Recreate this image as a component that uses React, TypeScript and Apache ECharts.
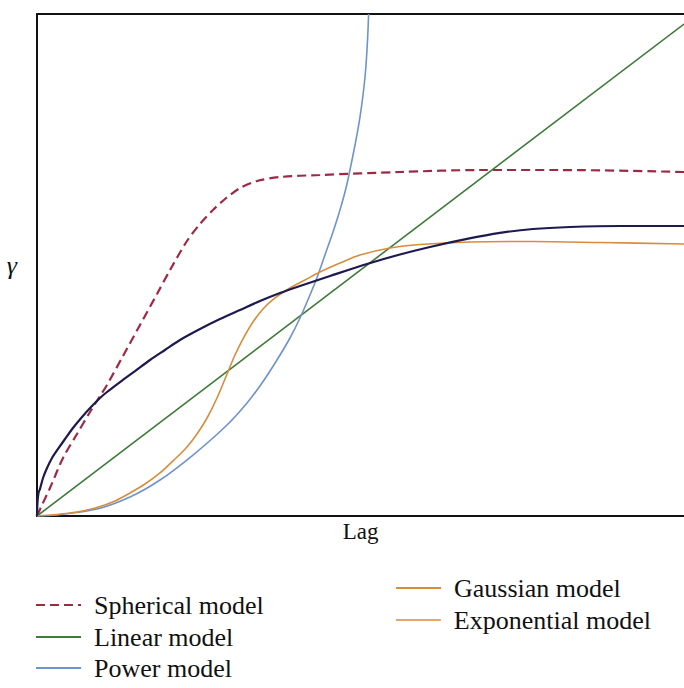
import React, { useEffect, useRef } from "react";
import * as echarts from "echarts";

const sphericalModel: number[][] = [
  [0, 0], [0.77, 2.19], [2.01, 5.58], [4.02, 11.55], [6.18, 16.33], [8.19, 20.72],
  [9.74, 23.9], [10.82, 26.1], [13.29, 31.87], [15.92, 38.05], [18.55, 44.22],
  [20.56, 49.0], [23.18, 54.78], [25.19, 58.17], [27.2, 60.96], [29.06, 63.15],
  [31.38, 65.34], [34.0, 66.73], [37.56, 67.53], [43.74, 67.93], [56.1, 68.53],
  [68.47, 68.92], [80.83, 68.92], [100, 68.53],
];
const linearModel: number[][] = [[0, 0], [100, 98]];
const powerModel: number[][] = [
  [0, 0], [3.09, 0.2], [9.27, 1.39], [14.37, 3.78], [19.01, 7.17], [24.11, 12.15],
  [29.37, 18.13], [32.46, 22.51], [34.78, 26.49], [37.09, 31.08], [39.1, 35.46],
  [40.65, 39.44], [42.19, 44.02], [43.43, 48.01], [44.67, 52.59], [45.75, 56.57],
  [46.83, 60.96], [47.76, 65.34], [48.53, 69.92], [49.3, 74.9], [49.92, 79.48],
  [50.39, 83.86], [50.77, 88.45], [51.0, 92.83], [51.16, 96.81], [51.25, 100],
];
const gaussianModel: number[][] = [
  [0, 0], [3.09, 0.3], [6.18, 0.8], [9.27, 1.69], [12.06, 2.99], [14.37, 4.58],
  [16.69, 6.37], [19.01, 8.57], [21.33, 11.35], [23.18, 13.75], [24.73, 16.33],
  [26.28, 19.52], [27.82, 23.51], [29.37, 28.29], [30.6, 32.07], [31.84, 35.3],
  [33.38, 38.65], [34.93, 41.24], [36.79, 43.43], [39.1, 45.42], [41.42, 47.01],
  [43.74, 48.61], [46.83, 50.4], [49.92, 51.99], [54.56, 53.39], [59.2, 54.08],
  [66.92, 54.58], [76.66, 54.68], [87.02, 54.48], [100, 54.18],
];
const exponentialModel: number[][] = [
  [0, 0], [0.08, 2.79], [0.23, 4.58], [0.46, 5.38], [0.93, 7.57], [1.55, 9.56],
  [2.32, 11.55], [3.25, 13.35], [4.33, 15.34], [5.56, 17.53], [6.96, 19.72],
  [8.35, 21.71], [9.74, 23.51], [10.82, 24.7], [12.83, 26.69], [15.15, 28.88],
  [17.47, 31.08], [19.78, 33.07], [22.1, 35.06], [25.19, 37.25], [28.28, 39.24],
  [31.38, 41.04], [34.47, 42.83], [37.56, 44.42], [40.65, 45.82], [45.29, 47.81],
  [51.0, 50.2], [56.1, 52.09], [60.74, 53.59], [66.46, 55.2], [71.56, 56.4],
  [76.66, 57.17], [82.38, 57.57], [90.11, 57.77], [100, 57.77],
];

const legendLeftColumn = ["Spherical model", "Linear model", "Power model"];
const legendRightColumn = ["Gaussian model", "Exponential model"];

const C_SPH = "#9c2a45";
const C_LIN = "#3f7a3a";
const C_POW = "#6f93cc";
const C_GAU = "#d98c3c";
const C_EXP = "#1e1a4f";
const FONT = "Liberation Serif";

export default function App() {
  const ref = useRef<HTMLDivElement>(null);
  useEffect(() => {
    if (!ref.current) return;
    const chart = echarts.init(ref.current, null, { renderer: "svg" });
    const line = (name: string, data: number[][], color: string, width: number, type: any = "solid") => ({
      name,
      type: "line",
      data,
      symbol: "none",
      smooth: 0.3,
      clip: true,
      lineStyle: { color, width, type },
      itemStyle: { color },
    });
    const legendText = { fontFamily: FONT, fontSize: 26, color: "#111", lineHeight: 26, padding: [0, 0, 0, 8] };
    const oneLegend = (item: any, left: number, centerY: number) => ({
      orient: "vertical", left, top: centerY - 13, padding: 0,
      itemWidth: 45, itemHeight: 12, itemGap: 0,
      textStyle: legendText, itemStyle: { opacity: 0 },
      data: [item],
    });
    chart.setOption({
      animation: false,
      backgroundColor: "#fff",
      grid: { left: 37, top: 14, right: 0, bottom: 172 },
      xAxis: [
        {
          type: "value", min: 0, max: 100, position: "bottom",
          axisLine: { show: true, onZero: false, lineStyle: { color: "#111", width: 2 } },
          axisTick: { show: false }, axisLabel: { show: false }, splitLine: { show: false },
          name: "Lag", nameLocation: "middle", nameGap: 4,
          nameTextStyle: { fontFamily: FONT, fontSize: 23, color: "#111", verticalAlign: "top" },
        },
        {
          type: "value", min: 0, max: 100, position: "top",
          axisLine: { show: true, onZero: false, lineStyle: { color: "#111", width: 2 } },
          axisTick: { show: false }, axisLabel: { show: false }, splitLine: { show: false },
        },
      ],
      yAxis: {
        type: "value", min: 0, max: 100,
        axisLine: { show: true, onZero: false, lineStyle: { color: "#111", width: 2 } },
        axisTick: { show: false }, axisLabel: { show: false }, splitLine: { show: false },
        name: "γ", nameLocation: "middle", nameGap: 20, nameRotate: 0,
        nameTextStyle: { fontFamily: FONT, fontSize: 26, fontStyle: "italic", color: "#111" },
      },
      legend: [
        oneLegend(legendLeftColumn[0], 35, 605),
        oneLegend(legendLeftColumn[1], 35, 637),
        oneLegend(legendLeftColumn[2], 35, 668),
        oneLegend(legendRightColumn[0], 395, 588),
        oneLegend(
          { name: legendRightColumn[1], itemStyle: { color: C_GAU, opacity: 0 }, lineStyle: { color: C_GAU, width: 1.6 } },
          395, 620
        ),
      ],
      series: [
        line("Spherical model", sphericalModel, C_SPH, 2.2, [9, 5]),
        line("Linear model", linearModel, C_LIN, 1.6),
        line("Power model", powerModel, C_POW, 1.6),
        line("Gaussian model", gaussianModel, C_GAU, 1.6),
        line("Exponential model", exponentialModel, C_EXP, 2.2),
      ],
    });
    return () => chart.dispose();
  }, []);
  return <div ref={ref} style={{ position: "fixed", left: 0, top: 0, width: 684, height: 688 }} />;
}
